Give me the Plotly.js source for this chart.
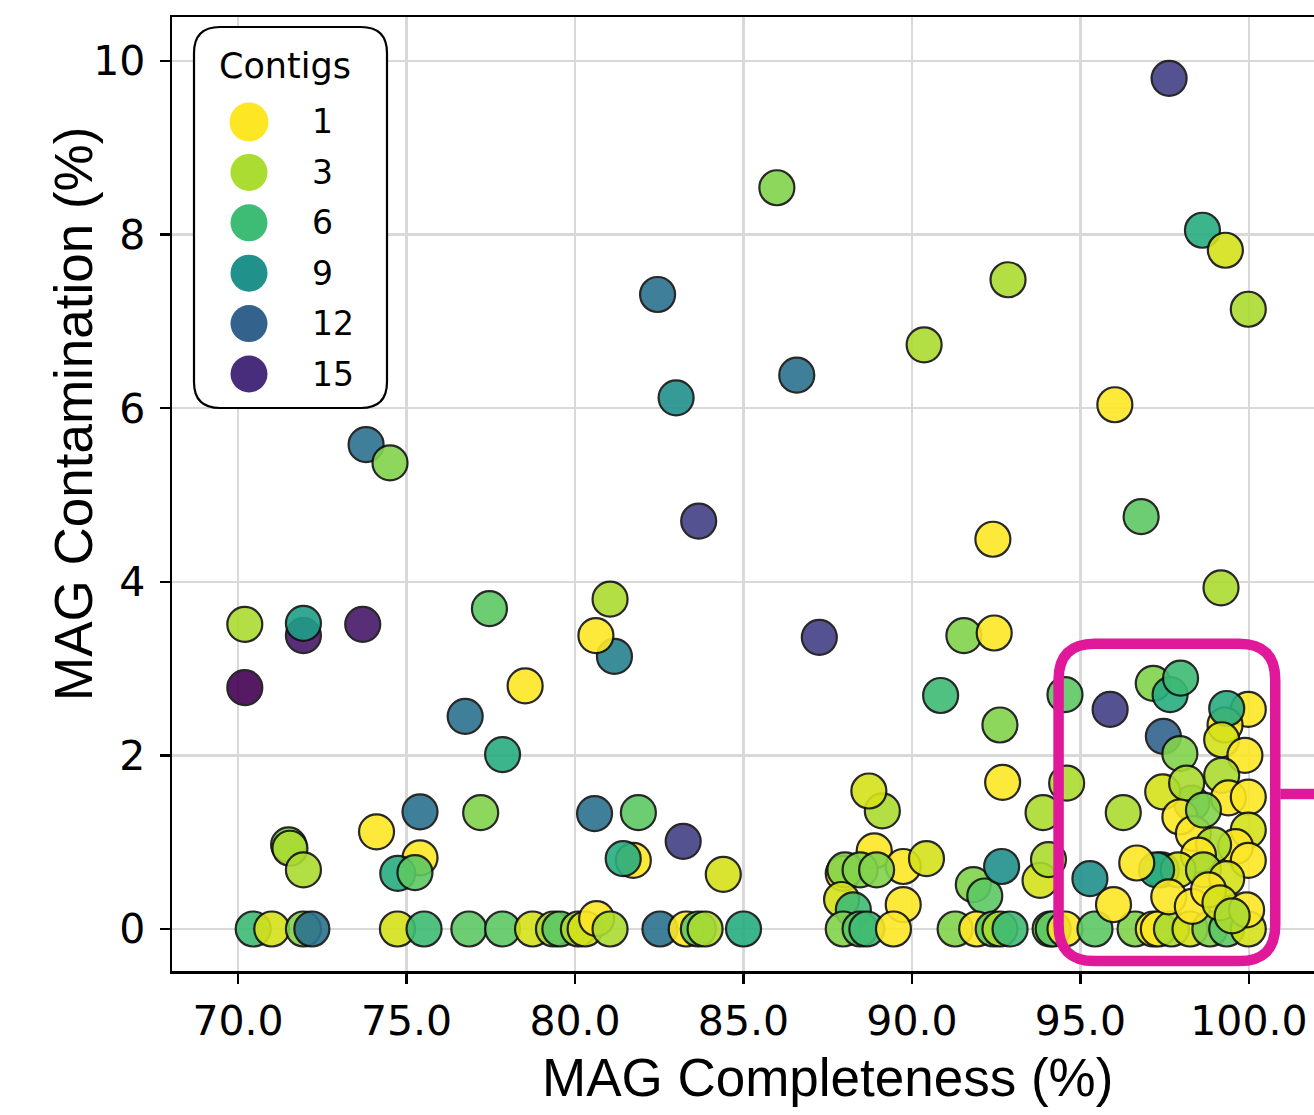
<!DOCTYPE html>
<html><head><meta charset="utf-8">
<script src="https://cdn.plot.ly/plotly-3.0.1.min.js"></script>
<style>html,body{margin:0;padding:0;background:#fff;overflow:hidden;} #chart{width:1314px;height:1115px;}</style>
</head><body><div id="chart"></div>
<script>
// ---- data (MAG completeness %, contamination %, number of contigs) ----
const completeness = [
 97.63,85.99,98.62,99.30,92.85,99.98,82.45,90.36,86.58,83.00,96.02,73.80,74.51,83.67,96.80,92.40,99.17,
 70.20,71.94,71.94,73.70,70.20,77.46,81.17,80.62,81.04,78.52,76.74,77.85,87.25,91.54,92.44,90.85,92.61,92.69,93.89,
 74.11,75.40,71.50,71.54,71.94,75.40,74.74,75.25,77.20,80.58,81.88,83.21,81.73,81.43,84.40,
 89.12,88.72,88.88,89.74,90.43,87.96,88.01,88.46,88.95,87.91,88.26,89.74,91.82,92.16,92.66,93.80,94.05,
 70.45,71.00,71.94,72.19,74.73,75.52,76.85,77.85,78.74,79.36,79.55,80.10,80.30,80.64,81.04,82.52,83.30,83.66,83.86,85.00,
 87.96,88.46,88.66,89.45,91.28,91.92,92.41,92.61,92.91,94.10,94.19,94.54,95.43,96.62,97.16,97.31,97.70,98.25,98.84,99.34,99.98,
 94.54,95.88,97.16,97.66,97.97,97.46,97.95,99.98,99.29,99.34,99.19,99.88,
 94.59,96.27,98.30,97.44,98.15,99.19,99.39,99.98,97.95,98.35,98.65,99.98,99.60,98.95,99.98,98.50,
 97.40,97.90,98.65,99.34,97.26,95.28,96.67,95.98,97.62,98.32,98.80,99.14,99.93,99.50
];
const contamination = [
 9.80,8.54,8.05,7.82,7.48,7.14,7.31,6.73,6.38,6.12,6.04,5.58,5.37,4.70,4.75,4.49,3.93,
 3.51,3.38,3.52,3.51,2.78,3.69,3.14,3.38,3.80,2.80,2.45,2.01,3.36,3.38,3.41,2.69,2.35,1.69,1.34,
 1.12,1.35,0.97,0.93,0.68,0.82,0.64,0.65,1.34,1.33,1.34,1.01,0.79,0.81,0.63,
 1.36,1.59,0.90,0.72,0.81,0.64,0.68,0.68,0.68,0.34,0.22,0.28,0.51,0.38,0.72,0.56,0.80,
 0,0,0,0,0,0,0,0,0,0,0,0,0,0.12,0,0,0,0,0,0,
 0,0,0,0,0,0,0,0,0,0,0,0,0,0,0,0,0,0,0,0,0,
 2.70,2.53,2.83,2.70,2.89,2.22,2.02,2.53,2.35,2.54,2.18,2.00,
 1.68,1.34,1.45,1.58,1.68,1.77,1.51,1.52,1.29,1.10,1.37,1.14,0.95,0.97,0.79,0.85,
 0.68,0.68,0.68,0.58,0.68,0.58,0.76,0.28,0.37,0.26,0.45,0.30,0.22,0.15
];
const contigs = [
 14,4,7,2,3,3,11,3,11,9,1,11,4,14,5,1,3,
 3,16,8,16,17,5,10,1,3,1,11,7,14,4,1,6,4,1,3,
 1,11,4,3,3,1,7,5,4,11,5,14,1,7,2,
 3,2,1,1,2,1,4,4,4,2,6,1,4,5,9,2,3,
 6,2,4,11,2,6,5,5,2,3,5,3,2,1,3,11,1,5,3,7,
 4,5,6,1,4,1,5,3,6,4,5,1,5,4,1,1,3,2,4,5,2,
 5,14,4,7,6,12,4,1,1,7,2,1,
 3,3,6,2,3,3,1,1,1,1,4,2,1,3,1,1,
 6,2,3,2,7,9,1,1,1,1,1,2,1,3
];
const legendValues = [1, 3, 6, 9, 12, 15];
const xTickValues = [70, 75, 80, 85, 90, 95, 100];
const yTickValues = [0, 2, 4, 6, 8, 10];

// ---- geometry ----
const W = 1314, H = 1115, ML = 172, MT = 17, MR = 0, MB = 144;
const PW = W - ML - MR, PH = H - MT - MB;
const px = x => (x - ML) / PW;
const py = y => (H - MB - y) / PH;

// Plotly Viridis scale (used reversed: 1 contig = yellow)
const viridis = [[0,'#440154'],[0.06274509803921569,'#48186a'],[0.12549019607843137,'#472d7b'],[0.18823529411764706,'#424086'],[0.25098039215686274,'#3b528b'],[0.3137254901960784,'#33638d'],[0.3764705882352941,'#2c728e'],[0.4392156862745098,'#26828e'],[0.5019607843137255,'#21918c'],[0.5647058823529412,'#1fa088'],[0.6274509803921569,'#28ae80'],[0.6901960784313725,'#3fbc73'],[0.7529411764705882,'#5ec962'],[0.8156862745098039,'#84d44b'],[0.8784313725490196,'#addc30'],[0.9411764705882353,'#d8e219'],[1,'#fde725']];
const CMIN = 1, CMAX = 17;
function hex2rgb(h){return [parseInt(h.slice(1,3),16),parseInt(h.slice(3,5),16),parseInt(h.slice(5,7),16)];}
function colorFor(c){
  const t = 1 - (c - CMIN) / (CMAX - CMIN);
  for (let i = 1; i < viridis.length; i++) {
    if (t <= viridis[i][0]) {
      const a = viridis[i-1], b = viridis[i];
      const f = (t - a[0]) / (b[0] - a[0]);
      const ca = hex2rgb(a[1]), cb = hex2rgb(b[1]);
      return 'rgb(' + ca.map((v,k)=>Math.round(v + f*(cb[k]-v))).join(',') + ')';
    }
  }
  return viridis[viridis.length-1][1];
}
function roundRect(x0,y0,x1,y1,rx,ry){
  return `M ${x0+rx},${y0} L ${x1-rx},${y0} Q ${x1},${y0} ${x1},${y0+ry} L ${x1},${y1-ry} Q ${x1},${y1} ${x1-rx},${y1} L ${x0+rx},${y1} Q ${x0},${y1} ${x0},${y1-ry} L ${x0},${y0+ry} Q ${x0},${y0} ${x0+rx},${y0} Z`;
}

const trace = {
  type: 'scatter', mode: 'markers',
  x: completeness, y: contamination,
  marker: {
    size: 35, color: contigs, colorscale: 'Viridis', reversescale: true,
    cmin: CMIN, cmax: CMAX, opacity: 0.9,
    line: {color: '#111111', width: 2.2}
  },
  hoverinfo: 'x+y+text', text: contigs.map(c => c + ' contigs'),
  showlegend: false
};

const xr = [68.04, 101.93], yr = [-0.484, 10.507];
const shapes = [];
const annotations = [];

// highlight box (data coordinates) and connector
const xs = PW / (xr[1]-xr[0]), ys = PH / (yr[1]-yr[0]);
shapes.push({type:'path', xref:'x', yref:'y', layer:'above',
  path: roundRect(94.35, -0.37, 100.78, 3.287, 36/xs, 36/ys),
  line:{color:'#E0199A', width:10.5}, fillcolor:'rgba(0,0,0,0)'});
shapes.push({type:'line', xref:'x', yref:'y', layer:'above',
  x0:100.78 + 5/xs, x1:103, y0:1.555, y1:1.555, line:{color:'#E0199A', width:10.5}});

// legend box
const lb = {l:194, t:27, r:387, b:408, rad:26};
shapes.push({type:'path', xref:'paper', yref:'paper', layer:'above',
  path: roundRect(px(lb.l), py(lb.b), px(lb.r), py(lb.t), lb.rad/PW, lb.rad/PH),
  line:{color:'#000000', width:2.2}, fillcolor:'#ffffff'});
annotations.push({xref:'paper', yref:'paper', x:px(285), y:py(66), xanchor:'center', yanchor:'middle',
  text:'Contigs', showarrow:false, font:{family:'DejaVu Sans', size:35, color:'#000'}});
legendValues.forEach((v,i) => {
  const cy = 122 + i*50.4;
  const r = i === 0 ? 19.5 : 18.5;
  shapes.push({type:'circle', xref:'paper', yref:'paper', layer:'above',
    xsizemode:'pixel', ysizemode:'pixel', xanchor:px(249), yanchor:py(cy),
    x0:-r, x1:r, y0:-r, y1:r, fillcolor:colorFor(v), line:{width:0}});
  annotations.push({xref:'paper', yref:'paper', x:px(310), y:py(cy), xanchor:'left', yanchor:'middle',
    text:String(v), showarrow:false, font:{family:'DejaVu Sans', size:33, color:'#000'}});
});

// axis titles (positioned as in the original figure)
annotations.push({xref:'paper', yref:'paper', x:px(827), y:py(1077), xanchor:'center', yanchor:'middle',
  text:'MAG Completeness (%)', showarrow:false, font:{family:'Liberation Sans, Arial', size:53, color:'#000'}});
annotations.push({xref:'paper', yref:'paper', x:px(73), y:py(414), xanchor:'center', yanchor:'middle', textangle:-90,
  text:'MAG Contamination (%)', showarrow:false, font:{family:'Liberation Sans, Arial', size:53, color:'#000'}});

const axisCommon = {
  showgrid:true, gridcolor:'#d9d9d9', gridwidth:2.5, zeroline:false,
  showline:true, linecolor:'#000', linewidth:2.5,
  ticks:'outside', ticklen:10, tickwidth:2.5, tickcolor:'#000',
  tickfont:{family:'DejaVu Sans', size:41, color:'#000'}
};
const layout = {
  width:W, height:H, margin:{l:ML, r:MR, t:MT, b:MB, pad:0},
  paper_bgcolor:'#fff', plot_bgcolor:'#fff',
  xaxis: Object.assign({}, axisCommon, {range:xr, tickvals:xTickValues, ticktext:xTickValues.map(v=>v.toFixed(1)), mirror:true, ticklabelstandoff:2}),
  yaxis: Object.assign({}, axisCommon, {range:yr, tickvals:yTickValues, ticktext:yTickValues.map(String), ticklabelstandoff:6}),
  shapes: shapes, annotations: annotations, showlegend:false
};
Plotly.newPlot('chart', [trace], layout, {displayModeBar:false, staticPlot:true});
</script></body></html>
